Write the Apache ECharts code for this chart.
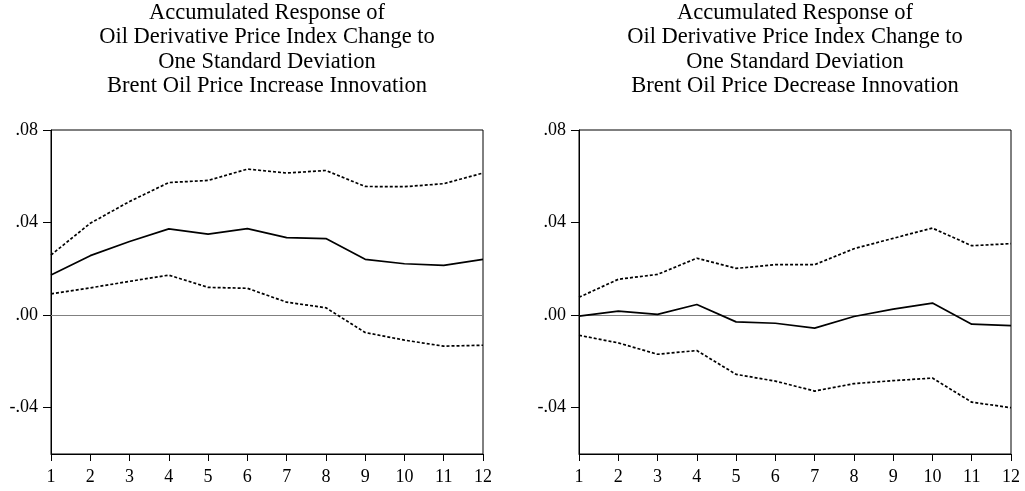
<!DOCTYPE html>
<html>
<head>
<meta charset="utf-8">
<script src="https://cdn.jsdelivr.net/npm/echarts@6/dist/echarts.min.js"></script>
<style>html,body{margin:0;padding:0;background:#fff}#c{width:1025px;height:491px}</style>
</head>
<body>
<div id="c"></div>
<script>
const periods = ['1','2','3','4','5','6','7','8','9','10','11','12'];
const tickValues = [-0.04, 0, 0.04, 0.08];
const tickLabels = ['-.04', '.00', '.04', '.08'];

const titleLeft = ['Accumulated Response of', 'Oil Derivative Price Index Change to', 'One Standard Deviation', 'Brent Oil Price Increase Innovation'];
const titleRight = ['Accumulated Response of', 'Oil Derivative Price Index Change to', 'One Standard Deviation', 'Brent Oil Price Decrease Innovation'];

const incResponse = [0.0173, 0.0257, 0.0318, 0.0373, 0.0350, 0.0374, 0.0335, 0.0331, 0.0241, 0.0222, 0.0215, 0.0241];
const incUpper    = [0.0260, 0.0397, 0.0491, 0.0573, 0.0582, 0.0631, 0.0614, 0.0625, 0.0556, 0.0555, 0.0568, 0.0614];
const incLower    = [0.0092, 0.0118, 0.0146, 0.0173, 0.0120, 0.0116, 0.0056, 0.0032, -0.0075, -0.0108, -0.0134, -0.0130];

const decResponse = [-0.0004, 0.0017, 0.0003, 0.0046, -0.0029, -0.0035, -0.0056, -0.0006, 0.0026, 0.0052, -0.0039, -0.0045];
const decUpper    = [0.0077, 0.0155, 0.0176, 0.0246, 0.0202, 0.0218, 0.0218, 0.0287, 0.0332, 0.0376, 0.0300, 0.0309];
const decLower    = [-0.0087, -0.0120, -0.0169, -0.0153, -0.0256, -0.0285, -0.0328, -0.0296, -0.0283, -0.0272, -0.0376, -0.0400];

const FONT = 'Liberation Serif';
const chart = echarts.init(document.getElementById('c'), null, {renderer: 'canvas'});

const grids = [
  {left: 51, top: 130, width: 432, height: 324},
  {left: 579, top: 130, width: 432, height: 324}
];

function xAxis(i) {
  return {
    type: 'category', gridIndex: i, data: periods, boundaryGap: false,
    axisLine: {onZero: false, lineStyle: {color: '#000', width: 1}},
    axisTick: {show: true, length: 7, alignWithLabel: true, lineStyle: {color: '#000'}},
    axisLabel: {color: '#000', fontFamily: FONT, fontSize: 18, margin: 14, interval: 0},
    splitLine: {show: false}
  };
}
function yAxis(i) {
  return {
    type: 'value', gridIndex: i, min: -0.06, max: 0.08,
    axisLine: {show: true, lineStyle: {color: '#000', width: 1}},
    axisTick: {show: true, length: 8, customValues: tickValues, lineStyle: {color: '#000'}},
    axisLabel: {
      color: '#000', fontFamily: FONT, fontSize: 18, margin: 13,
      customValues: tickValues,
      formatter: function (v) {
        const k = tickValues.findIndex(t => Math.abs(t - v) < 1e-9);
        return k >= 0 ? tickLabels[k] : '';
      }
    },
    splitLine: {show: false}
  };
}
function line(i, data, dotted, zero) {
  const s = {
    type: 'line', xAxisIndex: i, yAxisIndex: i, data: data,
    symbol: 'none', silent: true,
    lineStyle: {color: '#000', width: 1.7, type: dotted ? [3, 2] : 'solid'},
    z: dotted ? 3 : 4
  };
  if (zero) {
    s.markLine = {
      silent: true, symbol: 'none', label: {show: false},
      lineStyle: {color: '#808080', width: 1, type: 'solid'},
      data: [{yAxis: 0}], z: 1
    };
  }
  return s;
}

function titleGraphic(lines, cx) {
  return lines.map((t, k) => ({
    type: 'text', x: cx, y: 13 + k * 24.5,
    style: {text: t, fill: '#000', font: '22.5px "' + FONT + '"', textAlign: 'center', textVerticalAlign: 'middle'}
  }));
}

chart.setOption({
  animation: false,
  grid: grids.map(g => Object.assign({show: true, borderColor: '#000', borderWidth: 1, backgroundColor: 'transparent'}, g)),
  xAxis: [xAxis(0), xAxis(1)],
  yAxis: [yAxis(0), yAxis(1)],
  graphic: titleGraphic(titleLeft, 267).concat(titleGraphic(titleRight, 795)),
  series: [
    line(0, incResponse, false, true),
    line(0, incUpper, true),
    line(0, incLower, true),
    line(1, decResponse, false, true),
    line(1, decUpper, true),
    line(1, decLower, true)
  ]
});
</script>
</body>
</html>
